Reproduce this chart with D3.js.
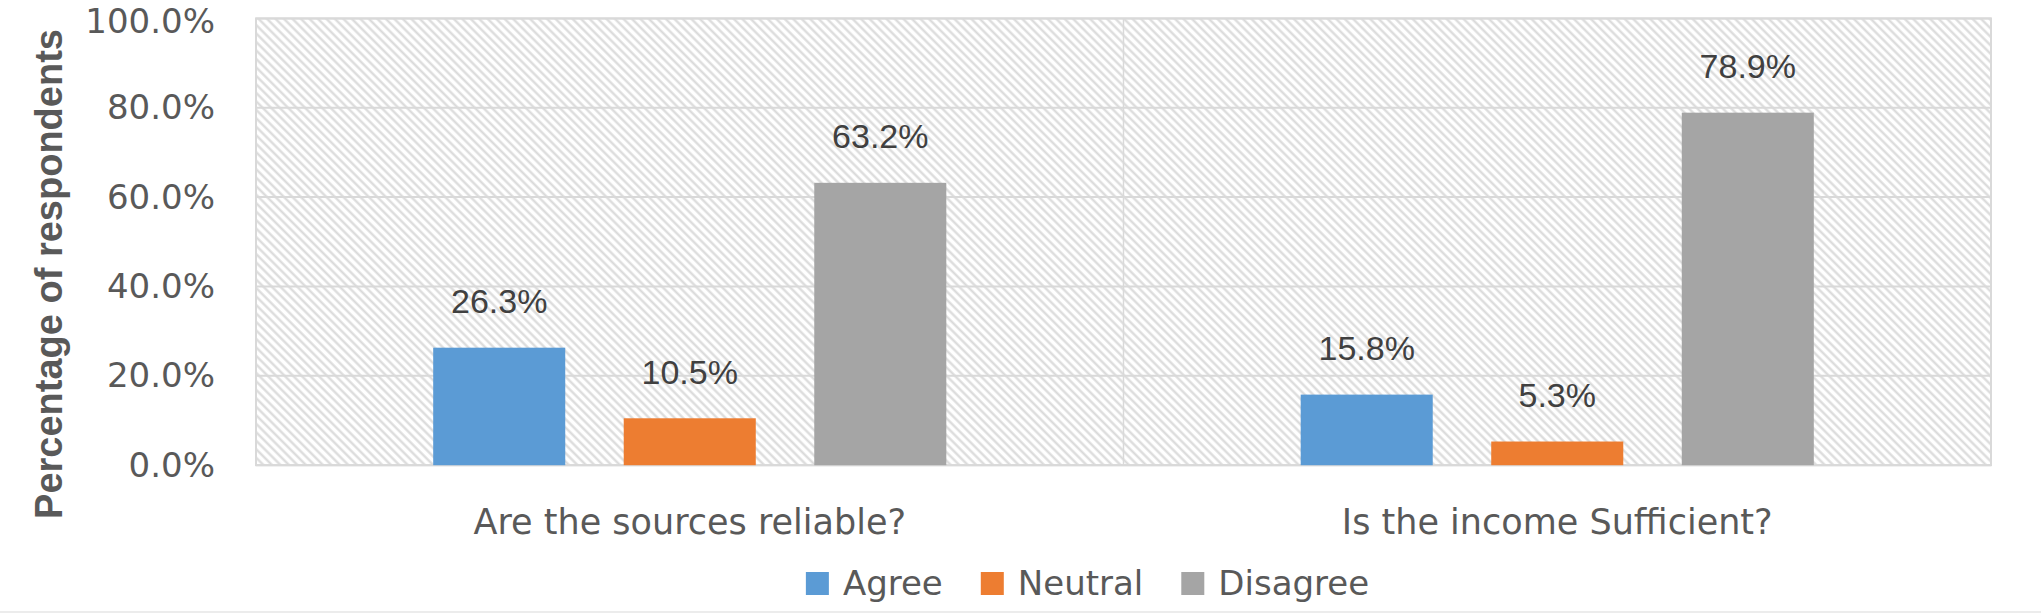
<!DOCTYPE html>
<html>
<head>
<meta charset="utf-8">
<script src="https://d3js.org/d3.v7.min.js"></script>
<style>
    body { margin: 0; background: #ffffff; }
</style>
</head>
<body>
<svg id="drawing_region"></svg>
<script>
const categories = ["Are the sources reliable?", "Is the income Sufficient?"];
const series = ["Agree", "Neutral", "Disagree"];
const agree = [26.3, 15.8];
const neutral = [10.5, 5.3];
const disagree = [63.2, 78.9];
const y_ticks = [0, 20, 40, 60, 80, 100];
const colors = ["#5b9bd5", "#ed7d31", "#a5a5a5"];


class BarChart {

    constructor( config, data ) {
        this.config = config;
        this.data = data;
        this.init();
    }

    init() {
        let self = this;

        self.svg = d3.select( self.config.parent )
            .attr('width', self.config.width)
            .attr('height', self.config.height);

        self.inner_width = self.config.width - self.config.margin.left - self.config.margin.right;
        self.inner_height = self.config.height - self.config.margin.top - self.config.margin.bottom;

        self.chart = self.svg.append('g')
            .attr('transform', `translate(${self.config.margin.left}, ${self.config.margin.top})`);

        self.x0 = d3.scaleBand()
            .domain( categories )
            .range( [0, self.inner_width] );

        self.x1 = d3.scaleBand()
            .domain( series )
            .range( [0, self.x0.bandwidth()] )
            .paddingInner( 0.307 )
            .paddingOuter( 0.93 );

        self.y = d3.scaleLinear()
            .domain( [0, 100] )
            .range( [self.inner_height, 0] );
    }

    update() {
        let self = this;
        self.render();
    }

    render() {
        let self = this;
        const fmt = d => d.toFixed(1) + '%';

        // hatched plot background
        const pattern = self.svg.append('defs')
            .append('pattern')
            .attr('id', 'hatch')
            .attr('patternUnits', 'userSpaceOnUse')
            .attr('width', 6)
            .attr('height', 6)
            .attr('patternTransform', 'rotate(-45)');
        pattern.append('rect')
            .attr('width', 6).attr('height', 6)
            .attr('fill', '#ffffff');
        pattern.append('line')
            .attr('x1', 1.5).attr('y1', 0)
            .attr('x2', 1.5).attr('y2', 6)
            .attr('stroke', '#d9d9d9')
            .attr('stroke-width', 2.2);

        self.chart.append('rect')
            .attr('width', self.inner_width)
            .attr('height', self.inner_height)
            .attr('fill', 'url(#hatch)');

        // grid lines
        self.chart.append('g')
            .selectAll('line')
            .data( y_ticks )
            .enter()
            .append('line')
            .attr('x1', 0)
            .attr('x2', self.inner_width)
            .attr('y1', d => self.y(d))
            .attr('y2', d => self.y(d))
            .attr('stroke', '#d9d9d9')
            .attr('stroke-width', 2);

        // category dividers
        self.chart.append('g')
            .selectAll('line')
            .data( categories.slice(1) )
            .enter()
            .append('line')
            .attr('x1', d => self.x0(d))
            .attr('x2', d => self.x0(d))
            .attr('y1', 0)
            .attr('y2', self.inner_height)
            .attr('stroke', '#d9d9d9')
            .attr('stroke-width', 1.5);

        self.chart.append('rect')
            .attr('width', self.inner_width)
            .attr('height', self.inner_height)
            .attr('fill', 'none')
            .attr('stroke', '#d9d9d9')
            .attr('stroke-width', 2);

        // bars
        const rows = [];
        categories.forEach( (c, i) => {
            series.forEach( (s, j) => {
                rows.push({ category: c, series: s, value: self.data[j][i], color: colors[j] });
            });
        });

        self.chart.selectAll('.bar')
            .data( rows )
            .enter()
            .append('rect')
            .attr('class', 'bar')
            .attr('x', d => self.x0(d.category) + self.x1(d.series))
            .attr('y', d => self.y(d.value))
            .attr('width', self.x1.bandwidth())
            .attr('height', d => self.inner_height - self.y(d.value))
            .attr('fill', d => d.color);

        self.chart.selectAll('.label')
            .data( rows )
            .enter()
            .append('text')
            .attr('class', 'label')
            .attr('x', d => self.x0(d.category) + self.x1(d.series) + self.x1.bandwidth() / 2)
            .attr('y', d => self.y(d.value) - 34.5)
            .attr('text-anchor', 'middle')
            .attr('font-family', '"Liberation Sans", Arial, sans-serif')
            .attr('font-size', 34)
            .attr('fill', '#404040')
            .text( d => fmt(d.value) );

        // y axis
        const y_axis = d3.axisLeft( self.y )
            .tickValues( y_ticks )
            .tickFormat( fmt )
            .tickSize( 0 )
            .tickPadding( 41 );

        self.chart.append('g')
            .call( y_axis )
            .call( g => g.select('.domain').remove() )
            .selectAll('text')
            .attr('font-family', '"DejaVu Sans", sans-serif')
            .attr('font-size', 34)
            .attr('fill', '#595959')
            .attr('dy', d => d === 100 ? '0.42em' : '0.32em');

        // x axis
        const x_axis = d3.axisBottom( self.x0 )
            .tickSize( 0 )
            .tickPadding( 42 );

        self.chart.append('g')
            .attr('transform', `translate(0, ${self.inner_height})`)
            .call( x_axis )
            .call( g => g.select('.domain').remove() )
            .selectAll('text')
            .attr('dy', 0)
            .attr('y', 68.8)
            .attr('font-family', '"DejaVu Sans", sans-serif')
            .attr('font-size', 35)
            .attr('fill', '#595959');

        // y axis title
        self.svg.append('text')
            .attr('transform', 'translate(61.7, 274) rotate(-90)')
            .attr('text-anchor', 'middle')
            .attr('font-family', '"Liberation Sans", Arial, sans-serif')
            .attr('font-weight', 'bold')
            .attr('font-size', 38)
            .attr('fill', '#595959')
            .text('Percentage of respondents');

        // legend
        const legend = self.svg.append('g');
        let lx = 0;
        series.forEach( (s, i) => {
            const item = legend.append('g').attr('transform', `translate(${lx}, 0)`);
            item.append('rect')
                .attr('x', 0)
                .attr('y', -23)
                .attr('width', 23)
                .attr('height', 23)
                .attr('fill', colors[i]);
            const t = item.append('text')
                .attr('x', 37)
                .attr('y', 0)
                .attr('font-family', '"DejaVu Sans", sans-serif')
                .attr('font-size', 34)
                .attr('fill', '#595959')
                .text(s);
            lx += 37 + t.node().getComputedTextLength() + 38;
        });
        const legend_width = lx - 38;
        legend.attr('transform', `translate(${1087.5 - legend_width / 2}, 595)`);

        // chart area border (bottom edge)
        self.svg.append('line')
            .attr('x1', 0)
            .attr('x2', self.config.width)
            .attr('y1', self.config.height - 1)
            .attr('y2', self.config.height - 1)
            .attr('stroke', '#e6e6e6')
            .attr('stroke-width', 1.5);
    }
}


const config = {
    parent: '#drawing_region',
    width: 2041,
    height: 613,
    margin: {top: 18.4, right: 50, bottom: 147.8, left: 256}
};

const bar_chart = new BarChart( config, [agree, neutral, disagree] );
bar_chart.update();
</script>
</body>
</html>
